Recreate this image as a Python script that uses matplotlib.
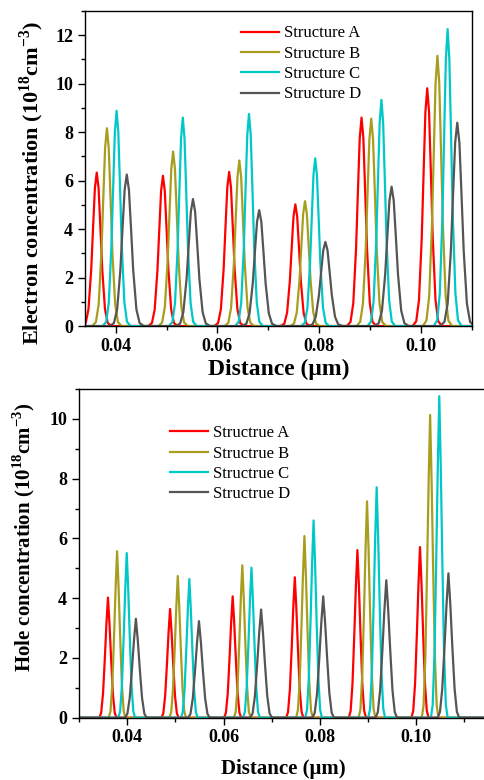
import numpy as np
import matplotlib
matplotlib.use("Agg")
import matplotlib.pyplot as plt
from matplotlib.ticker import MultipleLocator

plt.rcParams['font.family'] = ['Liberation Serif', 'DejaVu Serif']
plt.rcParams['mathtext.fontset'] = 'custom'
plt.rcParams['mathtext.rm'] = 'Liberation Serif:bold'
plt.rcParams['mathtext.bf'] = 'Liberation Serif:bold'

# electron concentration peaks (position in um, height in 1e18 cm^-3)
e_pos_A = [0.0363, 0.0493, 0.0623, 0.0753, 0.0883, 0.1012]
e_val_A = [6.33, 6.20, 6.36, 5.02, 8.60, 9.81]
e_pos_B = [0.0383, 0.0513, 0.0643, 0.0772, 0.0902, 0.1032]
e_val_B = [8.16, 7.20, 6.83, 5.15, 8.56, 11.15]
e_pos_C = [0.0402, 0.0532, 0.0662, 0.0792, 0.0922, 0.1052]
e_val_C = [8.88, 8.60, 8.75, 6.92, 9.33, 12.25]
e_pos_D = [0.0422, 0.0552, 0.0682, 0.0812, 0.0942, 0.1071]
e_val_D = [6.25, 5.24, 4.78, 3.47, 5.75, 8.39]
e_fwhm = [0.0018, 0.0018, 0.0017, 0.0021]

# hole concentration peaks
h_pos_A = [0.0360, 0.0489, 0.0619, 0.0748, 0.0878, 0.1008]
h_val_A = [4.02, 3.64, 4.06, 4.70, 5.61, 5.71]
h_pos_B = [0.0379, 0.0505, 0.0639, 0.0768, 0.0898, 0.1029]
h_val_B = [5.57, 4.74, 5.10, 6.08, 7.24, 10.13]
h_pos_C = [0.0399, 0.0529, 0.0658, 0.0787, 0.0918, 0.1048]
h_val_C = [5.51, 4.64, 5.02, 6.60, 7.71, 10.76]
h_pos_D = [0.0418, 0.0549, 0.0678, 0.0807, 0.0938, 0.1067]
h_val_D = [3.31, 3.23, 3.62, 4.06, 4.60, 4.83]
h_fwhm = [0.00128, 0.00124, 0.00124, 0.0016]

# peak outline (offset in fwhm units, fraction of peak height)
e_shape_dx = [-1.6, -1.2, -0.9, -0.6, -0.4, -0.2, 0.0, 0.2, 0.4, 0.6, 0.9, 1.2, 1.6]
e_shape_fy = [0.0, 0.02, 0.11, 0.37, 0.64, 0.9, 1.0, 0.9, 0.64, 0.37, 0.11, 0.02, 0.0]
h_shape_dx = [-1.4, -1.1, -0.8, -0.5, -0.25, 0.0, 0.25, 0.5, 0.8, 1.1, 1.4]
h_shape_fy = [0.0, 0.04, 0.2, 0.5, 0.78, 1.0, 0.78, 0.5, 0.2, 0.04, 0.0]

colors = ['#ff0000', '#a89e1e', '#00c8c8', '#555555']
e_labels = ['Structure A', 'Structure B', 'Structure C', 'Structure D']
h_labels = ['Structrue A', 'Structrue B', 'Structrue C', 'Structrue D']


def build_curve(pos, val, fwhm, dx, fy, x0, x1):
    xs = [x0]
    ys = [0.0]
    for p, v in zip(pos, val):
        for d, f in zip(dx, fy):
            xs.append(p + d * fwhm)
            ys.append(v * f)
    xs.append(x1)
    ys.append(0.0)
    return xs, ys


def style_axes(ax):
    ax.tick_params(which='both', direction='out', width=1, labelsize=13)
    ax.tick_params(which='major', length=5)
    ax.tick_params(which='minor', length=3)
    for lab in ax.get_xticklabels() + ax.get_yticklabels():
        lab.set_fontweight('bold')
    for s in ax.spines.values():
        s.set_linewidth(1)


fig = plt.figure(figsize=(4.85, 7.8), dpi=100)

# top panel
ax1 = fig.add_axes([0.1753, 0.582, 0.798, 0.404])
e_sets = [(e_pos_A, e_val_A), (e_pos_B, e_val_B), (e_pos_C, e_val_C), (e_pos_D, e_val_D)]
for i, (p, v) in enumerate(e_sets):
    xs, ys = build_curve(p, v, e_fwhm[i], e_shape_dx, e_shape_fy, 0.033, 0.111)
    ax1.plot(xs, ys, color=colors[i], lw=1.6, label=e_labels[i])
ax1.set_xlim(0.034, 0.110)
ax1.set_ylim(0, 13)
ax1.set_xticks([0.04, 0.06, 0.08, 0.10])
ax1.set_xticklabels(['0.04', '0.06', '0.08', '0.10'])
ax1.xaxis.set_minor_locator(MultipleLocator(0.01))
ax1.yaxis.set_major_locator(MultipleLocator(2))
ax1.yaxis.set_minor_locator(MultipleLocator(1))
style_axes(ax1)
ax1.set_xlabel('Distance (\u03bcm)', fontsize=17, fontweight='bold', labelpad=3)
ax1.set_ylabel('Electron concentration (10$^{18}$cm$^{-3}$)', fontsize=16,
               fontweight='bold')
ax1.yaxis.set_label_coords(-0.10, 0.455)
ax1.legend(loc='upper left', bbox_to_anchor=(0.385, 0.975), frameon=False,
           fontsize=12, handlelength=2.3, handletextpad=0.3, labelspacing=0.26,
           borderaxespad=0)

# bottom panel
ax2 = fig.add_axes([0.163, 0.0799, 0.844, 0.4214])
h_sets = [(h_pos_A, h_val_A), (h_pos_B, h_val_B), (h_pos_C, h_val_C), (h_pos_D, h_val_D)]
for i, (p, v) in enumerate(h_sets):
    xs, ys = build_curve(p, v, h_fwhm[i], h_shape_dx, h_shape_fy, 0.029, 0.116)
    ax2.plot(xs, ys, color=colors[i], lw=1.6, label=h_labels[i])
ax2.set_xlim(0.030, 0.115)
ax2.set_ylim(0, 11)
ax2.set_xticks([0.04, 0.06, 0.08, 0.10])
ax2.set_xticklabels(['0.04', '0.06', '0.08', '0.10'])
ax2.xaxis.set_minor_locator(MultipleLocator(0.01))
ax2.yaxis.set_major_locator(MultipleLocator(2))
ax2.yaxis.set_minor_locator(MultipleLocator(1))
style_axes(ax2)
ax2.spines['right'].set_visible(False)
ax2.set_xlabel('Distance (\u03bcm)', fontsize=15, fontweight='bold', labelpad=9)
ax2.set_ylabel('Hole concentration (10$^{18}$cm$^{-3}$)', fontsize=15,
               fontweight='bold')
ax2.yaxis.set_label_coords(-0.103, 0.55)
ax2.legend(loc='upper left', bbox_to_anchor=(0.205, 0.91), frameon=False,
           fontsize=12, handlelength=2.3, handletextpad=0.3, labelspacing=0.26,
           borderaxespad=0)

fig.savefig('out.png', dpi=100)
